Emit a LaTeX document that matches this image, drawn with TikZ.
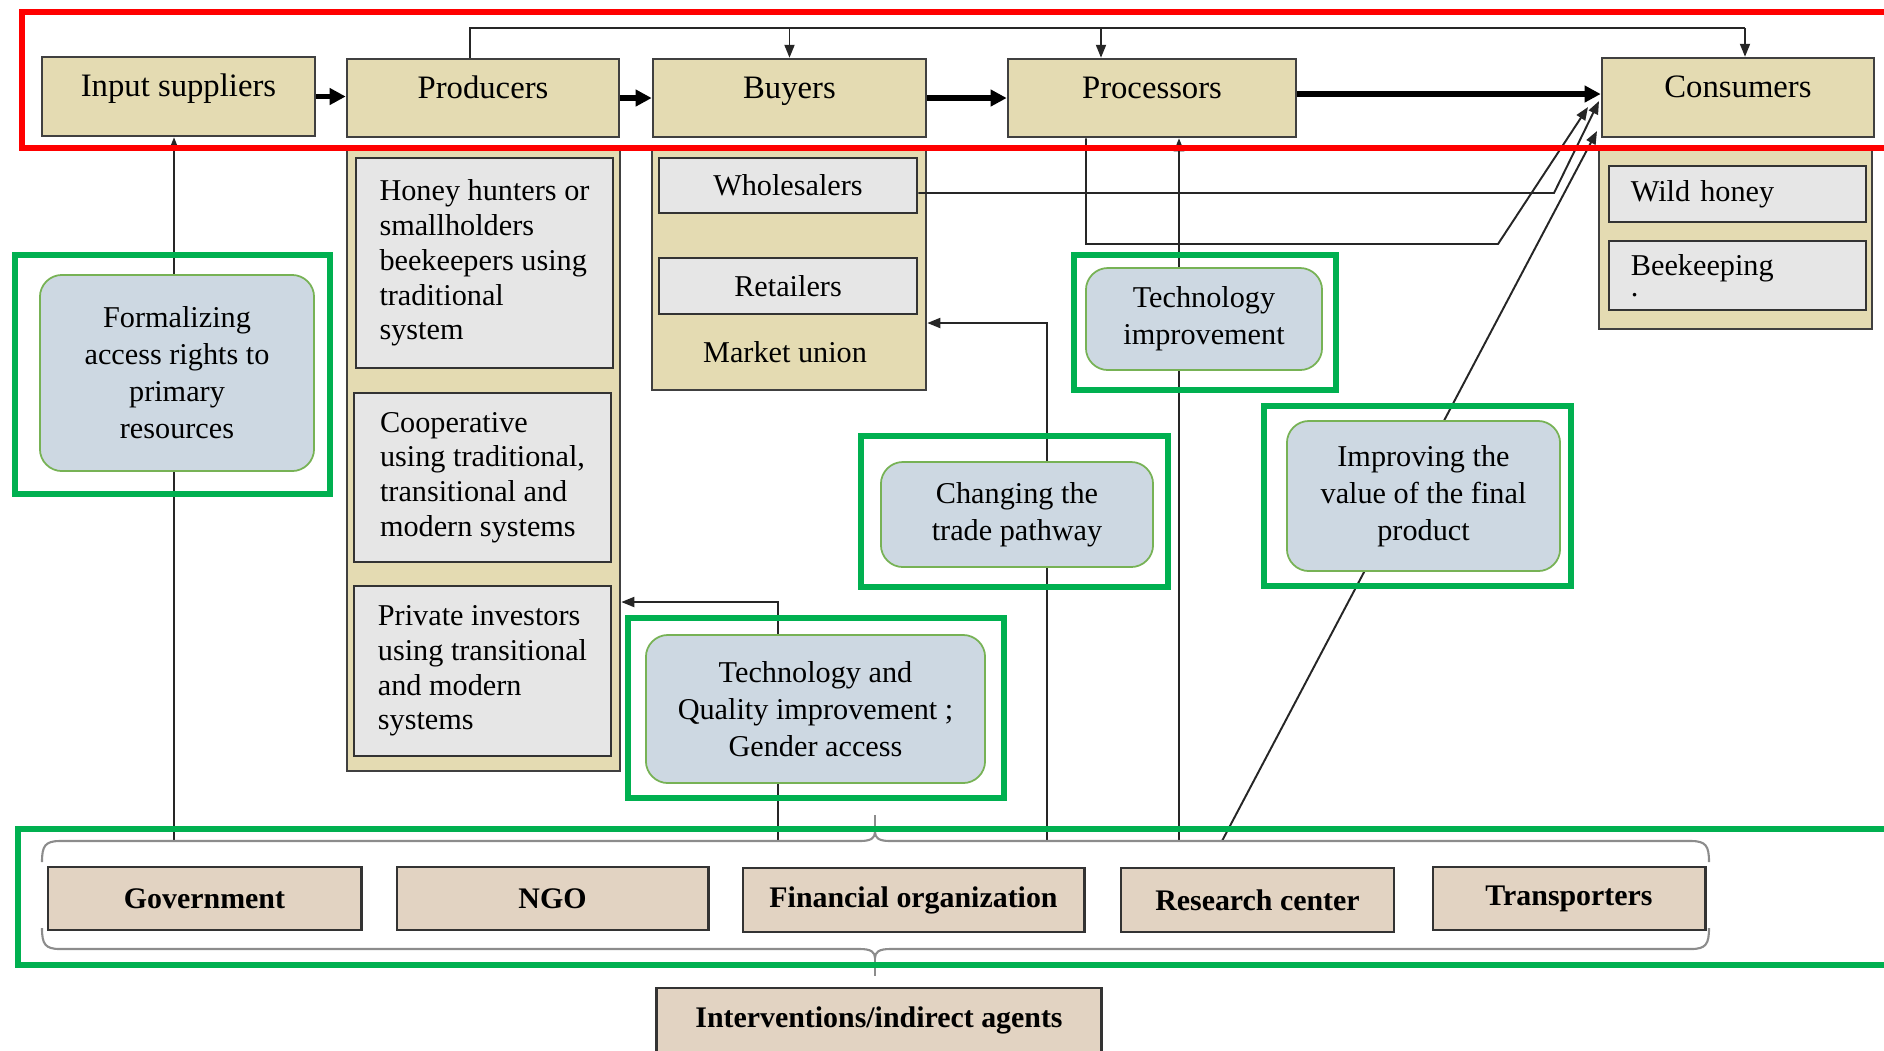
\documentclass[tikz,border=0pt]{standalone}
\usepackage{fontspec}
\setmainfont{Liberation Serif}
\usetikzlibrary{arrows.meta}
\definecolor{chainfill}{HTML}{E4DBB2}
\definecolor{subfill}{HTML}{E6E6E6}
\definecolor{leverfill}{HTML}{CDD8E2}
\definecolor{leverline}{HTML}{77B255}
\definecolor{zonegreen}{HTML}{00B050}
\definecolor{agentfill}{HTML}{E2D3C2}
\pgfdeclarelayer{bg}
\pgfsetlayers{bg,main}
\begin{document}
\begin{tikzpicture}[x=0.01cm,y=-0.01cm,
  actor/.style={rectangle,draw=black!75,fill=chainfill,line width=0.7pt,font=\fontsize{9.3}{11}\selectfont,text height=0.24cm,text depth=0.24cm},
  panel/.style={rectangle,draw=black!75,fill=chainfill,line width=0.7pt},
  subbox/.style={rectangle,draw=black!80,fill=subfill,line width=0.7pt,align=left,font=\fontsize{8.6}{9.9}\selectfont},
  lever/.style={rectangle,rounded corners=0.22cm,draw=leverline,fill=leverfill,line width=0.5pt,align=center,font=\fontsize{8.6}{10.5}\selectfont},
  zone/.style={rectangle,draw=zonegreen,line width=0.055cm},
  agent/.style={rectangle,draw=black!80,fill=agentfill,line width=0.8pt,font=\fontsize{8.5}{10}\selectfont\bfseries},
  conn/.style={draw=black!85,line width=0.55pt},
  arr/.style={-{Triangle[width=0.1cm,length=0.13cm]}},
  flow/.style={line width=1.6pt,-{Triangle[width=0.16cm,length=0.16cm]}},
  bracket/.style={draw=black!45,line width=0.6pt}]

  \useasboundingbox (0,0) rectangle (1884,1050);

  \node[actor,minimum width=2.73cm,minimum height=0.79cm] (input) at (178.5,96.5) {Input suppliers};
  \node[actor,minimum width=2.72cm,minimum height=0.78cm] (prod) at (483,98) {Producers};
  \node[actor,minimum width=2.73cm,minimum height=0.78cm] (buy) at (789.5,98) {Buyers};
  \node[actor,minimum width=2.88cm,minimum height=0.78cm] (proc) at (1152,98) {Processors};
  \node[actor,minimum width=2.72cm,minimum height=0.79cm] (cons) at (1738,97.5) {Consumers};

  \node[panel,minimum width=2.73cm,minimum height=6.21cm] (prodpanel) at (483.5,460.5) {};
  \node[subbox,minimum width=2.57cm,minimum height=2.10cm] (hunters) at (484.5,263) {Honey hunters or\\smallholders\\beekeepers using\\traditional\\system};
  \node[subbox,minimum width=2.57cm,minimum height=1.69cm] (coop) at (482.5,477.5) {Cooperative\\using traditional,\\transitional and\\modern systems};
  \node[subbox,minimum width=2.57cm,minimum height=1.70cm] (private) at (482.5,671) {Private investors\\using transitional\\and modern\\systems};

  \node[panel,minimum width=2.74cm,minimum height=2.40cm] (buypanel) at (789,270) {};
  \node[subbox,align=center,minimum width=2.58cm,minimum height=0.55cm] (whole) at (788,185.5) {Wholesalers};
  \node[subbox,align=center,minimum width=2.58cm,minimum height=0.56cm] (retail) at (788,286) {Retailers};
  \node[font=\fontsize{8.6}{10}\selectfont] (union) at (785,352) {Market union};

  \node[panel,minimum width=2.73cm,minimum height=1.79cm] (conspanel) at (1735.5,239.5) {};
  \node[subbox,text width=2.13cm,inner xsep=0.22cm,minimum height=0.56cm] (wild) at (1737.5,194) {Wild honey};
  \node[subbox,text width=2.13cm,inner xsep=0.22cm,minimum height=0.69cm] (keep) at (1737.5,275.5) {Beekeeping\\[-0.14cm].};

  \node[lever,minimum width=2.74cm,minimum height=1.96cm] (formal) at (177,373) {Formalizing\\access rights to\\primary\\resources};
  \node[lever,minimum width=2.36cm,minimum height=1.02cm] (techimp) at (1204,319) {Technology\\improvement};
  \node[lever,minimum width=2.72cm,minimum height=1.05cm] (trade) at (1017,514.5) {Changing the\\trade pathway};
  \node[lever,minimum width=2.73cm,minimum height=1.50cm] (value) at (1423.5,496) {Improving the\\value of the final\\product};
  \node[lever,minimum width=3.39cm,minimum height=1.48cm] (quality) at (815.5,709) {Technology and\\Quality improvement ;\\Gender access};

  \node[zone,minimum width=3.15cm,minimum height=2.39cm] (formal-zone) at (172.5,374.5) {};
  \node[zone,minimum width=2.62cm,minimum height=1.35cm] (techimp-zone) at (1205,322.5) {};
  \node[zone,minimum width=3.07cm,minimum height=1.51cm] (trade-zone) at (1014.5,511.5) {};
  \node[zone,minimum width=3.07cm,minimum height=1.80cm] (value-zone) at (1417.5,496) {};
  \node[zone,minimum width=3.76cm,minimum height=1.80cm] (quality-zone) at (816,708) {};

  \node[agent,minimum width=3.13cm,minimum height=0.63cm] (gov) at (204.5,898.5) {Government};
  \node[agent,minimum width=3.11cm,minimum height=0.63cm] (ngo) at (552.5,898.5) {NGO};
  \node[agent,minimum width=3.41cm,minimum height=0.64cm] (fin) at (913.5,900) {Financial organization};
  \node[agent,minimum width=2.73cm,minimum height=0.64cm] (research) at (1257.5,900) {Research center};
  \node[agent,minimum width=2.72cm,minimum height=0.63cm] (trans) at (1569,898.5) {Transporters};
  \node[agent,minimum width=4.44cm,minimum height=0.64cm] (interv) at (879,1020) {Interventions/indirect agents};

  \coordinate (topl) at (470,28);
  \coordinate (topp) at (1101,28);
  \coordinate (topr) at (1745,28);
  \coordinate (formal-foot) at (174,841);
  \coordinate (quality-foot) at (778,841);
  \coordinate (quality-turn) at (778,602);
  \coordinate (trade-foot) at (1047,841);
  \coordinate (trade-turn) at (1047,323);
  \coordinate (techimp-foot) at (1179,841);
  \coordinate (value-foot) at (1222,841);
  \coordinate (proc-turn) at (1086,244);
  \coordinate (proc-bend) at (1498,244);
  \coordinate (whole-bend) at (1554,193);
  \coordinate (cons-a) at (1588,107);
  \coordinate (cons-b) at (1599,101);
  \coordinate (cons-c) at (1597,131);
  \coordinate (top-tip) at (875,832);
  \coordinate (bottom-tip) at (875,958);

  \draw[flow] (input.east) -- (input.east -| prod.west);
  \draw[flow] (prod.east) -- (prod.east -| buy.west);
  \draw[flow] (buy.east) -- (buy.east -| proc.west);
  \draw[flow] ([yshift=0.04cm]proc.east) -- ([yshift=0.04cm]proc.east -| cons.west);

  \draw[conn] (prod.north -| topl) -- (topl) -- (topr);
  \draw[conn,arr] (topr) -- (topr |- cons.north);
  \draw[conn,arr] (topl -| buy.north) -- (buy.north);
  \draw[conn,arr] (topp) -- (topp |- proc.north);

  \draw[conn,arr] (proc.south -| proc-turn) -- (proc-turn) -- (proc-bend) -- (cons-a);
  \draw[conn,arr] (whole.east |- whole-bend) -- (whole-bend) -- (cons-b);

  \begin{pgfonlayer}{bg}
    \draw[conn,arr] (formal-foot) -- (formal-foot |- input.south);
    \draw[conn,arr] (quality-foot) -- (quality-turn) -- (quality-turn -| prodpanel.east);
    \draw[conn,arr] (trade-foot) -- (trade-turn) -- (trade-turn -| buypanel.east);
    \draw[conn,arr] (techimp-foot) -- (techimp-foot |- proc.south);
    \draw[conn,arr] (value-foot) -- (cons-c);
  \end{pgfonlayer}

  \draw[bracket] (42,862) .. controls (42,846) and (45,841) .. (60,841) -- (860,841) .. controls (871,841) and (875,838) .. (top-tip) .. controls (875,838) and (879,841) .. (890,841) -- (1691,841) .. controls (1706,841) and (1709,846) .. (1709,862);
  \draw[bracket] (top-tip) -- (875,815);
  \draw[bracket] (42,928) .. controls (42,944) and (45,949) .. (60,949) -- (860,949) .. controls (871,949) and (875,952) .. (bottom-tip) .. controls (875,952) and (879,949) .. (890,949) -- (1691,949) .. controls (1706,949) and (1709,944) .. (1709,928);
  \draw[bracket,shorten >=0.11cm] (bottom-tip) -- (bottom-tip |- interv.north);

  \draw[zonegreen,line width=0.055cm] (18,829) rectangle (1900,965);
  \draw[red,line width=0.06cm] (22,12) rectangle (1900,148);
\end{tikzpicture}
\end{document}
